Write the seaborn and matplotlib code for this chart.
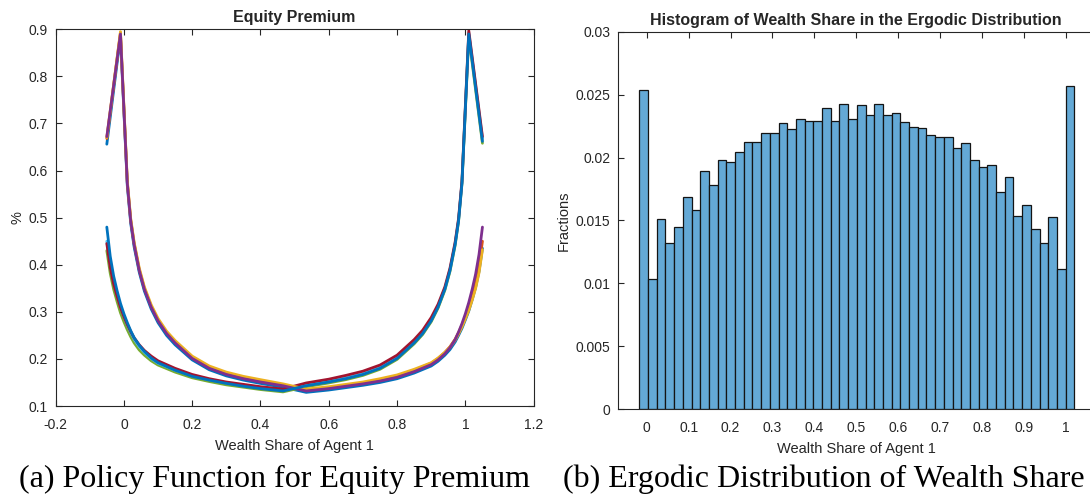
import numpy as np
import pandas as pd
import matplotlib
matplotlib.use('Agg')
import matplotlib.pyplot as plt
import seaborn as sns

# ---- left panel data: equity premium policy functions ----
# lines steep on the left (peak near 0), gradual on the right
x_s = [-0.05, -0.01, 0.01, 0.02, 0.03, 0.045, 0.06, 0.08, 0.1, 0.125, 0.15, 0.2, 0.25,
       0.3, 0.35, 0.4, 0.466, 0.534, 0.6, 0.65, 0.7, 0.75, 0.8, 0.85, 0.9, 0.92, 0.94,
       0.955, 0.97, 0.98, 0.99, 1.0, 1.01, 1.02, 1.03, 1.04, 1.05]
s_orange = [0.668, 0.893, 0.575, 0.495, 0.445, 0.390, 0.350, 0.312, 0.283, 0.256, 0.236, 0.203, 0.182,
            0.169, 0.160, 0.153, 0.145, 0.134, 0.139, 0.144, 0.149, 0.156, 0.164, 0.176, 0.191, 0.201, 0.214,
            0.226, 0.242, 0.256, 0.272, 0.290, 0.310, 0.335, 0.362, 0.398, 0.450]
s_yellow = [0.670, 0.895, 0.578, 0.498, 0.448, 0.393, 0.353, 0.315, 0.286, 0.259, 0.239, 0.206, 0.185,
            0.172, 0.163, 0.156, 0.147, 0.136, 0.141, 0.146, 0.151, 0.158, 0.166, 0.178, 0.192, 0.202, 0.214,
            0.225, 0.240, 0.253, 0.268, 0.285, 0.303, 0.325, 0.350, 0.383, 0.432]
s_purple = [0.672, 0.890, 0.573, 0.493, 0.443, 0.388, 0.348, 0.310, 0.281, 0.254, 0.234, 0.201, 0.180,
            0.167, 0.158, 0.151, 0.143, 0.132, 0.137, 0.142, 0.147, 0.153, 0.161, 0.173, 0.188, 0.198, 0.211,
            0.224, 0.241, 0.257, 0.275, 0.296, 0.320, 0.348, 0.380, 0.422, 0.480]
s_blue = [0.656, 0.885, 0.568, 0.488, 0.438, 0.384, 0.344, 0.306, 0.277, 0.250, 0.230, 0.198, 0.177,
          0.164, 0.155, 0.148, 0.140, 0.129, 0.134, 0.139, 0.144, 0.150, 0.158, 0.170, 0.185, 0.195, 0.208,
          0.220, 0.236, 0.250, 0.265, 0.283, 0.302, 0.326, 0.352, 0.386, 0.435]

# lines gradual on the left, steep on the right (peak near 1)
x_g = [-0.05, -0.04, -0.03, -0.02, -0.01, 0.0, 0.01, 0.02, 0.03, 0.045, 0.06, 0.08, 0.1, 0.15,
       0.2, 0.25, 0.3, 0.35, 0.4, 0.466, 0.534, 0.6, 0.65, 0.7, 0.75, 0.8, 0.85, 0.875, 0.9,
       0.92, 0.94, 0.955, 0.97, 0.98, 0.99, 1.01, 1.05]
g_lightblue = [0.450, 0.398, 0.362, 0.335, 0.310, 0.290, 0.272, 0.256, 0.242, 0.226, 0.214, 0.201, 0.191, 0.176,
               0.164, 0.156, 0.149, 0.144, 0.139, 0.134, 0.145, 0.153, 0.160, 0.169, 0.182, 0.203, 0.236, 0.256, 0.283,
               0.312, 0.350, 0.390, 0.445, 0.495, 0.575, 0.893, 0.668]
g_green = [0.430, 0.382, 0.348, 0.322, 0.298, 0.279, 0.262, 0.247, 0.234, 0.219, 0.208, 0.196, 0.187, 0.172,
           0.160, 0.152, 0.145, 0.140, 0.135, 0.130, 0.141, 0.149, 0.156, 0.165, 0.178, 0.199, 0.232, 0.252, 0.279,
           0.308, 0.346, 0.386, 0.441, 0.492, 0.572, 0.885, 0.658]
g_red = [0.445, 0.394, 0.359, 0.333, 0.309, 0.290, 0.273, 0.258, 0.245, 0.230, 0.218, 0.206, 0.196, 0.180,
         0.167, 0.158, 0.151, 0.146, 0.141, 0.136, 0.149, 0.157, 0.165, 0.174, 0.187, 0.208, 0.241, 0.261, 0.288,
         0.316, 0.353, 0.393, 0.448, 0.498, 0.578, 0.897, 0.672]
g_blue = [0.480, 0.418, 0.376, 0.345, 0.318, 0.296, 0.277, 0.260, 0.245, 0.229, 0.216, 0.202, 0.192, 0.176,
          0.163, 0.155, 0.148, 0.142, 0.137, 0.132, 0.143, 0.151, 0.158, 0.167, 0.180, 0.201, 0.234, 0.254, 0.281,
          0.310, 0.348, 0.388, 0.443, 0.493, 0.573, 0.890, 0.662]

# ---- right panel data: histogram of wealth share (50 bins) ----
bin_lo, bin_hi = -0.0177, 1.0205
fractions = [0.02537, 0.01033, 0.01510, 0.01320, 0.01446, 0.01690, 0.01580, 0.01896, 0.01780, 0.01980,
             0.01965, 0.02047, 0.02120, 0.02127, 0.02193, 0.02193, 0.02272, 0.02225, 0.02304, 0.02293,
             0.02293, 0.02394, 0.02288, 0.02423, 0.02304, 0.02415, 0.02341, 0.02423, 0.02341, 0.02357,
             0.02283, 0.02246, 0.02238, 0.02177, 0.02164, 0.02166, 0.02076, 0.02113, 0.01980, 0.01923,
             0.01939, 0.01730, 0.01849, 0.01536, 0.01624, 0.01433, 0.01320, 0.01531, 0.01118, 0.02572]

left_xticks = [-0.2, 0, 0.2, 0.4, 0.6, 0.8, 1, 1.2]
left_xlabels = ['-0.2', '0', '0.2', '0.4', '0.6', '0.8', '1', '1.2']
left_yticks = [0.1, 0.2, 0.3, 0.4, 0.5, 0.6, 0.7, 0.8, 0.9]
left_ylabels = ['0.1', '0.2', '0.3', '0.4', '0.5', '0.6', '0.7', '0.8', '0.9']
right_xticks = [0, 0.1, 0.2, 0.3, 0.4, 0.5, 0.6, 0.7, 0.8, 0.9, 1]
right_xlabels = ['0', '0.1', '0.2', '0.3', '0.4', '0.5', '0.6', '0.7', '0.8', '0.9', '1']
right_yticks = [0, 0.005, 0.01, 0.015, 0.02, 0.025, 0.03]
right_ylabels = ['0', '0.005', '0.01', '0.015', '0.02', '0.025', '0.03']

sns.set_style('ticks')
plt.rcParams['font.family'] = ['Liberation Sans', 'DejaVu Sans']
ink = '#262626'
plt.rcParams.update({
    'axes.edgecolor': ink, 'axes.linewidth': 0.8,
    'xtick.color': ink, 'ytick.color': ink,
    'xtick.direction': 'in', 'ytick.direction': 'in',
    'xtick.major.size': 4, 'ytick.major.size': 4,
    'xtick.major.width': 0.8, 'ytick.major.width': 0.8,
    'xtick.major.pad': 8.5, 'ytick.major.pad': 5.5,
    'xtick.labelsize': 10, 'ytick.labelsize': 10,
    'xtick.top': True, 'ytick.right': True,
})

# long table for seaborn (later lines are drawn on top)
rows = []
lines = [('s_blue', x_s, s_blue), ('g_green', x_g, g_green), ('g_lightblue', x_g, g_lightblue),
         ('g_red', x_g, g_red), ('s_orange', x_s, s_orange), ('s_yellow', x_s, s_yellow),
         ('s_purple', x_s, s_purple), ('g_blue', x_g, g_blue)]
for name, xs, ys in lines:
    for xv, yv in zip(xs, ys):
        rows.append({'x': xv, 'y': yv, 'line': name})
df = pd.DataFrame(rows)
palette = {'g_blue': '#0072BD', 's_orange': '#D95319', 's_yellow': '#EDB120', 's_purple': '#7E2F8E',
           'g_green': '#77AC30', 'g_lightblue': '#4DBEEE', 'g_red': '#A2142F', 's_blue': '#0072BD'}

fig = plt.figure(figsize=(10.9, 4.94), dpi=100)
ax1 = fig.add_axes([0.0510, 0.1781, 0.4386, 0.7626])
ax2 = fig.add_axes([0.5670, 0.1715, 0.4371, 0.7644])

sns.lineplot(data=df, x='x', y='y', hue='line', hue_order=[n for n, _, _ in lines],
             palette=palette, estimator=None, linewidth=2.0, legend=False, ax=ax1)
ax1.set_xlim(-0.2, 1.2)
ax1.set_ylim(0.1, 0.9)
ax1.set_xticks(left_xticks, left_xlabels)
ax1.set_yticks(left_yticks, left_ylabels)
ax1.set_title('Equity Premium', fontsize=11.5, fontweight='bold', pad=5)
ax1.set_xlabel('Wealth Share of Agent 1', fontsize=10.5, color=ink, labelpad=5.2)
ax1.set_ylabel('%', fontsize=10.5, color=ink, labelpad=3)

edges = np.linspace(bin_lo, bin_hi, len(fractions) + 1)
hist_df = pd.DataFrame({'share': (edges[:-1] + edges[1:]) / 2, 'fraction': fractions})
sns.histplot(data=hist_df, x='share', weights='fraction', bins=edges.tolist(), color='#64A9D6',
             alpha=1, edgecolor='#141414', linewidth=0.9, ax=ax2)
ax2.set_xlim(-0.0685, 1.0685)
ax2.set_ylim(0, 0.03)
ax2.set_xticks(right_xticks, right_xlabels)
ax2.set_yticks(right_yticks, right_ylabels)
ax2.tick_params(axis='y', right=False)
ax2.set_title('Histogram of Wealth Share in the Ergodic Distribution', fontsize=11.5,
              fontweight='bold', pad=5)
ax2.set_xlabel('Wealth Share of Agent 1', fontsize=10.5, color=ink, labelpad=5)
ax2.set_ylabel('Fractions', fontsize=10.5, color=ink, labelpad=3.7)

fig.text(0.2514, 0.0142, '(a) Policy Function for Equity Premium', family='Liberation Serif',
         fontsize=23, ha='center', va='baseline', color='black')
fig.text(0.756, 0.0142, '(b) Ergodic Distribution of Wealth Share', family='Liberation Serif',
         fontsize=23, ha='center', va='baseline', color='black')

fig.savefig('out.png', dpi=100)
